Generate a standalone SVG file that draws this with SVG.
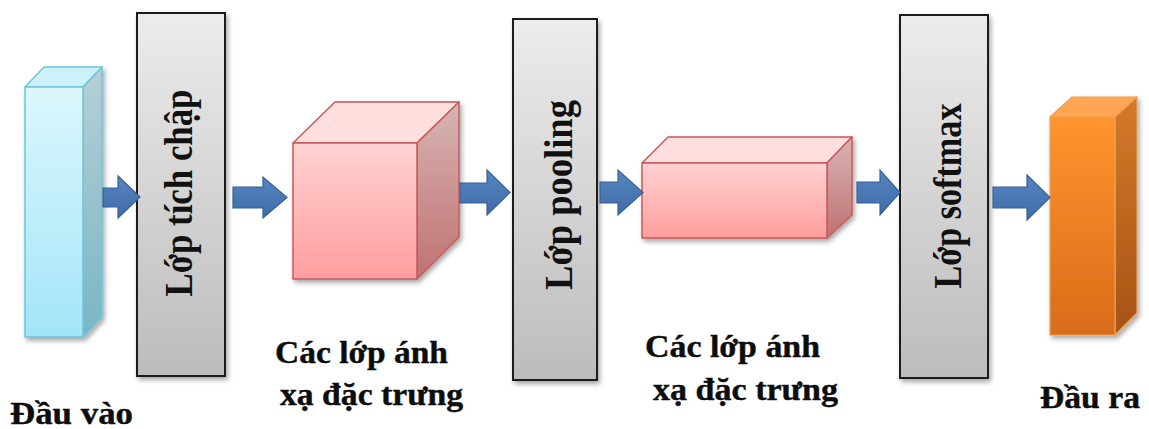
<svg xmlns="http://www.w3.org/2000/svg" width="1149" height="429" viewBox="0 0 1149 429">
  <style>
    .layer { stroke: #1a1a1a; stroke-width: 2; fill: url(#gGray); filter: url(#shadow); }
    .vlabel { font-family: "Liberation Serif", "Times New Roman", serif; font-weight: bold; font-size: 40px; fill: #111; text-anchor: middle; }
    .label { font-family: "Liberation Serif", "Times New Roman", serif; font-weight: bold; font-size: 31px; fill: #0d0d0d; stroke: #0d0d0d; stroke-width: 0.4; }
    .arrow { fill: url(#gBlue); stroke: #3b6091; stroke-width: 1.2; }
  </style>
  <defs>
    <filter id="shadow" x="-20%" y="-10%" width="150%" height="130%">
      <feDropShadow dx="2" dy="3" stdDeviation="2.5" flood-color="#000" flood-opacity="0.35"/>
    </filter>
    <linearGradient id="gGray" x1="0" y1="0" x2="0" y2="1">
      <stop offset="0" stop-color="#ececec"/>
      <stop offset="1" stop-color="#bcbcbc"/>
    </linearGradient>
    <linearGradient id="gBlue" x1="0" y1="0" x2="0" y2="1">
      <stop offset="0" stop-color="#5585c2"/>
      <stop offset="1" stop-color="#3f6ca8"/>
    </linearGradient>
    <!-- cyan prism -->
    <linearGradient id="cyFront" x1="0" y1="0" x2="0" y2="1">
      <stop offset="0" stop-color="#dcf7fd"/>
      <stop offset="1" stop-color="#a2e5f8"/>
    </linearGradient>
    <linearGradient id="cySide" x1="0" y1="0" x2="0" y2="1">
      <stop offset="0" stop-color="#b7cfd5"/>
      <stop offset="1" stop-color="#78b6c6"/>
    </linearGradient>
    <!-- pink boxes -->
    <linearGradient id="pkFront" x1="0" y1="0" x2="0" y2="1">
      <stop offset="0" stop-color="#ffd2d2"/>
      <stop offset="1" stop-color="#ff9e9e"/>
    </linearGradient>
    <linearGradient id="pkSide" x1="0" y1="0" x2="0" y2="1">
      <stop offset="0" stop-color="#d8b4b4"/>
      <stop offset="1" stop-color="#c07272"/>
    </linearGradient>
    <!-- orange prism -->
    <linearGradient id="orFront" x1="0" y1="0" x2="0" y2="1">
      <stop offset="0" stop-color="#ff952e"/>
      <stop offset="1" stop-color="#d86c1a"/>
    </linearGradient>
    <linearGradient id="orSide" x1="0" y1="0" x2="0" y2="1">
      <stop offset="0" stop-color="#d47a2a"/>
      <stop offset="1" stop-color="#a65314"/>
    </linearGradient>
  </defs>

  <rect width="1149" height="429" fill="#ffffff"/>

  <!-- input prism -->
  <g id="input">
    <g filter="url(#shadow)" stroke="#6ec5d8" stroke-width="1.5" stroke-linejoin="round">
      <polygon points="25,87 44,67 102,67 83,87" fill="#cdf1fa"/>
      <polygon points="83,87 102,67 102,317 83,337" fill="url(#cySide)"/>
      <rect x="25" y="87" width="58" height="250" fill="url(#cyFront)"/>
    </g>
    <text class="label" x="10" y="424" textLength="123" lengthAdjust="spacingAndGlyphs">Đầu vào</text>
  </g>

  <!-- convolution layer -->
  <g id="conv">
    <rect class="layer" x="137" y="13" width="88" height="363"/>
    <text class="vlabel" transform="translate(192,193) rotate(-90)" textLength="207" lengthAdjust="spacingAndGlyphs">Lớp tích chập</text>
  </g>

  <!-- feature maps after convolution -->
  <g id="fmap1">
    <g filter="url(#shadow)" stroke="#c85a5a" stroke-width="1.5" stroke-linejoin="round">
      <polygon points="293,143 335,102 459,102 417,143" fill="#ffdede"/>
      <polygon points="417,143 459,102 459,237 417,279" fill="url(#pkSide)"/>
      <rect x="293" y="143" width="124" height="136" fill="url(#pkFront)"/>
    </g>
    <text class="label" x="275" y="363" textLength="173" lengthAdjust="spacingAndGlyphs">Các lớp ánh</text>
    <text class="label" x="280" y="405" textLength="183" lengthAdjust="spacingAndGlyphs">xạ đặc trưng</text>
  </g>

  <!-- pooling layer -->
  <g id="pool">
    <rect class="layer" x="513" y="19" width="84" height="361"/>
    <text class="vlabel" transform="translate(572,195) rotate(-90)" textLength="190" lengthAdjust="spacingAndGlyphs">Lớp pooling</text>
  </g>

  <!-- feature maps after pooling -->
  <g id="fmap2">
    <g filter="url(#shadow)" stroke="#c85a5a" stroke-width="1.5" stroke-linejoin="round">
      <polygon points="642,163 668,137 852,137 827,163" fill="#ffdede"/>
      <polygon points="827,163 852,137 852,215 827,238" fill="url(#pkSide)"/>
      <rect x="642" y="163" width="185" height="75" fill="url(#pkFront)"/>
    </g>
    <text class="label" x="645" y="357" textLength="175" lengthAdjust="spacingAndGlyphs">Các lớp ánh</text>
    <text class="label" x="653" y="400" textLength="185" lengthAdjust="spacingAndGlyphs">xạ đặc trưng</text>
  </g>

  <!-- softmax layer -->
  <g id="softmax">
    <rect class="layer" x="900" y="15" width="88" height="363"/>
    <text class="vlabel" transform="translate(961,196) rotate(-90)" textLength="185" lengthAdjust="spacingAndGlyphs">Lớp softmax</text>
  </g>

  <!-- output prism -->
  <g id="output">
    <g filter="url(#shadow)" stroke="#f0a050" stroke-width="1.2" stroke-linejoin="round">
      <polygon points="1050,117 1072,97 1137,97 1115,117" fill="#ffa552"/>
      <polygon points="1115,117 1137,97 1137,313 1115,335" fill="url(#orSide)"/>
      <rect x="1050" y="117" width="65" height="218" fill="url(#orFront)"/>
    </g>
    <text class="label" x="1040" y="408" textLength="100" lengthAdjust="spacingAndGlyphs">Đầu ra</text>
  </g>

  <!-- block arrows between stages -->
  <g id="connectors">
    <path class="arrow" d="M103,188 L118,188 L118,176 L140,197 L118,218 L118,207 L103,207 Z"/>
    <path class="arrow" d="M233,187 L263,187 L263,177 L287,197.5 L263,218 L263,208 L233,208 Z"/>
    <path class="arrow" d="M460,183 L487,183 L487,170 L510,192.5 L487,215 L487,203 L460,203 Z"/>
    <path class="arrow" d="M600,182 L618,182 L618,170 L643,192.5 L618,215 L618,203 L600,203 Z"/>
    <path class="arrow" d="M857,182 L880,182 L880,170 L900,192.5 L880,215 L880,203 L857,203 Z"/>
    <path class="arrow" d="M993,187 L1027,187 L1027,175 L1050,197.5 L1027,220 L1027,208 L993,208 Z"/>
  </g>
</svg>
